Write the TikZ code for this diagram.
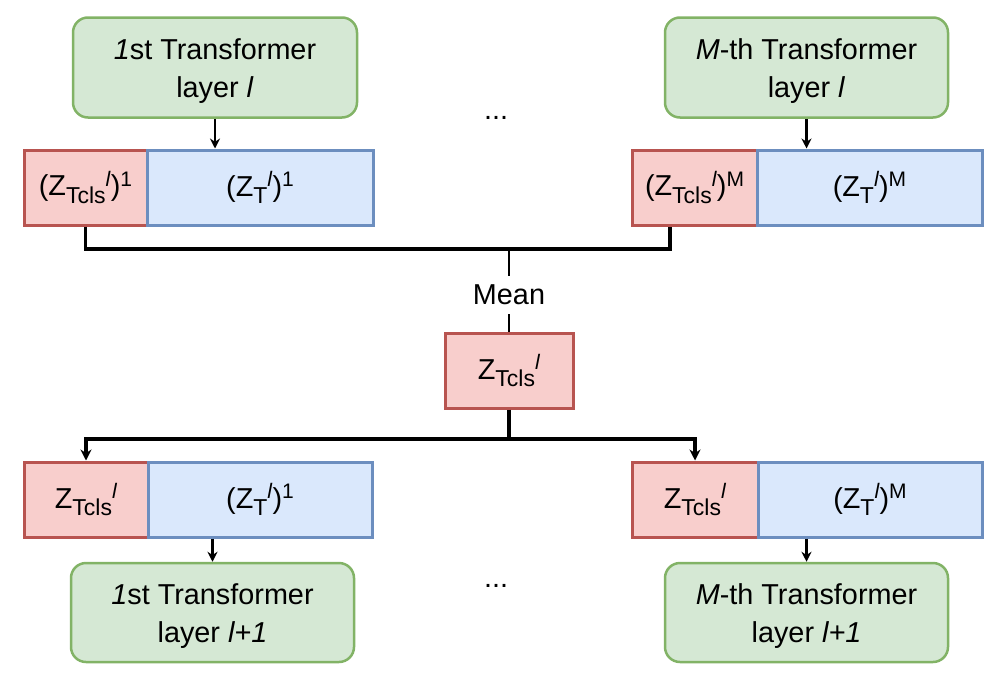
\documentclass[tikz,border=0pt]{standalone}
\usepackage{fontspec}
\setmainfont{Liberation Sans}
\usetikzlibrary{arrows.meta}
\definecolor{grnF}{HTML}{D5E8D4}
\definecolor{grnS}{HTML}{82B366}
\definecolor{redF}{HTML}{F8CECC}
\definecolor{redS}{HTML}{B85450}
\definecolor{bluF}{HTML}{DAE8FC}
\definecolor{bluS}{HTML}{6C8EBF}
\newcommand{\sbx}[1]{\raisebox{-7.5pt}{\fontsize{23}{23}\selectfont #1}}
\newcommand{\spx}[1]{\raisebox{9.5pt}{\fontsize{21}{21}\selectfont #1}}
\newcommand{\topstrut}{\rule{0pt}{27pt}}
\begin{document}
\begin{tikzpicture}[x=1pt,y=-1pt,
  txt/.style={font=\fontsize{28.8}{38}\selectfont, align=center, inner sep=0pt},
  greenbox/.style={txt, draw=grnS, fill=grnF, rounded corners=15pt, line width=2.5pt, minimum width=284pt, minimum height=100pt},
  redbox/.style={txt, draw=redS, fill=redF, line width=3pt, minimum height=75pt},
  bluebox/.style={txt, draw=bluS, fill=bluF, line width=3pt, minimum height=75pt},
  conn/.style={line width=3.3pt},
  thinconn/.style={line width=2.5pt},
  arr/.style={line width=2.5pt, -{Stealth[length=10pt,width=10pt]}},
  thickarr/.style={line width=3.3pt, -{Stealth[length=11pt,width=11pt]}}
]
\useasboundingbox (0,0) rectangle (1008,680);
% top row
\node[greenbox] (g1) at (215,67.5) {\topstrut\textit{1}st Transformer\\layer \textit{l}};
\node[greenbox, minimum width=283pt] (g2) at (806.5,67.5) {\topstrut\textit{M}-th Transformer\\layer \textit{l}};
\node[redbox, minimum width=123pt] (r1) at (85.5,187.5) {(Z\sbx{Tcls}\spx{\textit{l}})\spx{1}};
\node[bluebox, minimum width=226pt] (b1) at (260,187.5) {(Z\sbx{T}\spx{\textit{l}})\spx{1}};
\node[redbox, minimum width=125pt] (r2) at (694.5,187.5) {(Z\sbx{Tcls}\spx{\textit{l}})\spx{M}};
\node[bluebox, minimum width=225pt] (b2) at (869.5,187.5) {(Z\sbx{T}\spx{\textit{l}})\spx{M}};
\node[txt, anchor=base] (d1) at (496,119) {...};
% mean
\node[redbox, minimum width=128pt] (m) at (509,370.5) {Z\sbx{Tcls}\spx{\textit{l}}};
% bottom row
\node[redbox, minimum width=124pt] (r3) at (86,499.5) {Z\sbx{Tcls}\spx{\textit{l}}};
\node[bluebox, minimum width=224pt] (b3) at (260,499.5) {(Z\sbx{T}\spx{\textit{l}})\spx{1}};
\node[redbox, minimum width=126pt] (r4) at (695,499.5) {Z\sbx{Tcls}\spx{\textit{l}}};
\node[bluebox, minimum width=224pt] (b4) at (870,499.5) {(Z\sbx{T}\spx{\textit{l}})\spx{M}};
\node[greenbox, minimum width=283pt, minimum height=99pt] (g3) at (212.5,612.5) {\topstrut\textit{1}st Transformer\\layer \textit{l+1}};
\node[greenbox, minimum width=283pt, minimum height=99pt] (g4) at (806.5,612.5) {\topstrut\textit{M}-th Transformer\\layer \textit{l+1}};
\node[txt, anchor=base] (d2) at (496,587) {...};
% connectors
\draw[arr] (g1.south) -- (g1.south |- b1.north);
\draw[arr] (g2.south) -- (g2.south |- b2.north);
\coordinate (j) at (509,249);
\coordinate (k) at (670,249);
\draw[conn] (r1.south) |- (k) -- (k |- r2.south);
\draw[thinconn] (j) -- node[pos=0.56, fill=white, txt, inner xsep=2pt, inner ysep=9pt] (meanlbl) {Mean} (m.north);
\coordinate (h) at (509,439);
\draw[conn] (m.south) -- (h);
\draw[thickarr] (h) -| (r3.north);
\draw[thickarr] (h) -| (r4.north);
\draw[arr] (g3.north |- b3.south) -- (g3.north);
\draw[arr] (g4.north |- b4.south) -- (g4.north);
\end{tikzpicture}
\end{document}
